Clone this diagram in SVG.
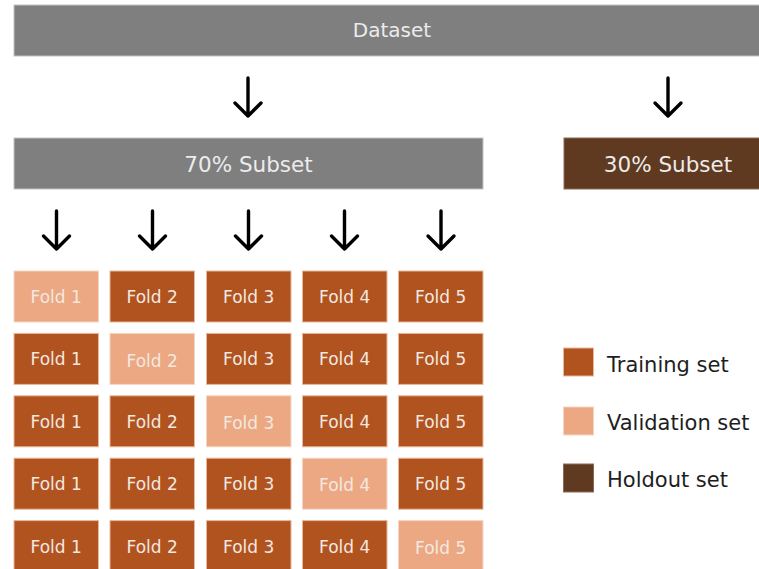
<svg xmlns="http://www.w3.org/2000/svg" width="759" height="569" viewBox="0 0 759 569">
<style>
.bar{fill:#7f7f7f;stroke:#c4c4c4;stroke-width:1}
.hold{fill:#603a20;stroke:#8a6a55;stroke-width:1}
.tr{fill:#b1531e;stroke:#e9b79a;stroke-width:1}
.va{fill:#eba883;stroke:#f6d6c3;stroke-width:1}
.t{font-family:"DejaVu Sans",Verdana,sans-serif;text-anchor:middle}
.big{font-size:21.5px;fill:#ececec}
.fold{font-size:17px;fill:#f3e8e0}
.leg{font-family:"DejaVu Sans",Verdana,sans-serif;font-size:21px;fill:#1e1e1e}
.arr{fill:none;stroke:#000;stroke-width:3.4;stroke-linecap:round;stroke-linejoin:round}
</style>
<rect width="759" height="569" fill="#fff"/>
<g id="dataset"><rect class="bar" x="14" y="5" width="746" height="51"/><text class="t big" x="392" y="37" style="font-size:20px">Dataset</text></g>
<g id="subset70"><rect class="bar" x="14" y="138" width="469" height="51"/><text class="t big" x="248.5" y="172">70% Subset</text></g>
<g id="subset30"><rect class="hold" x="564" y="138" width="196" height="51"/><text class="t big" x="668" y="172">30% Subset</text></g>
<g id="connectors">
<path class="arr" d="M248 78V116M235 103L248 116L261 103"/>
<path class="arr" d="M668 78V116M655 103L668 116L681 103"/>
<path class="arr" d="M56.5 211V249M43.5 236L56.5 249L69.5 236"/>
<path class="arr" d="M152.5 211V249M139.5 236L152.5 249L165.5 236"/>
<path class="arr" d="M248.5 211V249M235.5 236L248.5 249L261.5 236"/>
<path class="arr" d="M344.5 211V249M331.5 236L344.5 249L357.5 236"/>
<path class="arr" d="M441 211V249M428 236L441 249L454 236"/>
</g>
<g id="row1">
<g id="r1f1"><rect class="va" x="14" y="271" width="84.5" height="51"/><text class="t fold" x="56.2" y="303">Fold 1</text></g>
<g id="r1f2"><rect class="tr" x="110" y="271" width="84.5" height="51"/><text class="t fold" x="152.2" y="303">Fold 2</text></g>
<g id="r1f3"><rect class="tr" x="206.5" y="271" width="84.5" height="51"/><text class="t fold" x="248.7" y="303">Fold 3</text></g>
<g id="r1f4"><rect class="tr" x="302.5" y="271" width="84.5" height="51"/><text class="t fold" x="344.7" y="303">Fold 4</text></g>
<g id="r1f5"><rect class="tr" x="398.5" y="271" width="84.5" height="51"/><text class="t fold" x="440.7" y="303">Fold 5</text></g>
</g>
<g id="row2">
<g id="r2f1"><rect class="tr" x="14" y="333.4" width="84.5" height="51"/><text class="t fold" x="56.2" y="365">Fold 1</text></g>
<g id="r2f2"><rect class="va" x="110" y="333.4" width="84.5" height="51"/><text class="t fold" x="152.2" y="366.5">Fold 2</text></g>
<g id="r2f3"><rect class="tr" x="206.5" y="333.4" width="84.5" height="51"/><text class="t fold" x="248.7" y="365">Fold 3</text></g>
<g id="r2f4"><rect class="tr" x="302.5" y="333.4" width="84.5" height="51"/><text class="t fold" x="344.7" y="365">Fold 4</text></g>
<g id="r2f5"><rect class="tr" x="398.5" y="333.4" width="84.5" height="51"/><text class="t fold" x="440.7" y="365">Fold 5</text></g>
</g>
<g id="row3">
<g id="r3f1"><rect class="tr" x="14" y="395.8" width="84.5" height="51"/><text class="t fold" x="56.2" y="427.5">Fold 1</text></g>
<g id="r3f2"><rect class="tr" x="110" y="395.8" width="84.5" height="51"/><text class="t fold" x="152.2" y="427.5">Fold 2</text></g>
<g id="r3f3"><rect class="va" x="206.5" y="395.8" width="84.5" height="51"/><text class="t fold" x="248.7" y="429">Fold 3</text></g>
<g id="r3f4"><rect class="tr" x="302.5" y="395.8" width="84.5" height="51"/><text class="t fold" x="344.7" y="427.5">Fold 4</text></g>
<g id="r3f5"><rect class="tr" x="398.5" y="395.8" width="84.5" height="51"/><text class="t fold" x="440.7" y="427.5">Fold 5</text></g>
</g>
<g id="row4">
<g id="r4f1"><rect class="tr" x="14" y="458.2" width="84.5" height="51"/><text class="t fold" x="56.2" y="490">Fold 1</text></g>
<g id="r4f2"><rect class="tr" x="110" y="458.2" width="84.5" height="51"/><text class="t fold" x="152.2" y="490">Fold 2</text></g>
<g id="r4f3"><rect class="tr" x="206.5" y="458.2" width="84.5" height="51"/><text class="t fold" x="248.7" y="490">Fold 3</text></g>
<g id="r4f4"><rect class="va" x="302.5" y="458.2" width="84.5" height="51"/><text class="t fold" x="344.7" y="491">Fold 4</text></g>
<g id="r4f5"><rect class="tr" x="398.5" y="458.2" width="84.5" height="51"/><text class="t fold" x="440.7" y="490">Fold 5</text></g>
</g>
<g id="row5">
<g id="r5f1"><rect class="tr" x="14" y="520.6" width="84.5" height="51"/><text class="t fold" x="56.2" y="552.5">Fold 1</text></g>
<g id="r5f2"><rect class="tr" x="110" y="520.6" width="84.5" height="51"/><text class="t fold" x="152.2" y="552.5">Fold 2</text></g>
<g id="r5f3"><rect class="tr" x="206.5" y="520.6" width="84.5" height="51"/><text class="t fold" x="248.7" y="552.5">Fold 3</text></g>
<g id="r5f4"><rect class="tr" x="302.5" y="520.6" width="84.5" height="51"/><text class="t fold" x="344.7" y="552.5">Fold 4</text></g>
<g id="r5f5"><rect class="va" x="398.5" y="520.6" width="84.5" height="51"/><text class="t fold" x="440.7" y="554">Fold 5</text></g>
</g>
<g id="legend-training"><rect class="tr" x="563.5" y="348" width="30" height="28"/><text class="leg" x="607" y="372">Training set</text></g>
<g id="legend-validation"><rect class="va" x="563.5" y="407" width="30" height="28"/><text class="leg" x="607" y="430">Validation set</text></g>
<g id="legend-holdout"><rect class="hold" x="563.5" y="464" width="30" height="28"/><text class="leg" x="607" y="487">Holdout set</text></g>
</svg>
